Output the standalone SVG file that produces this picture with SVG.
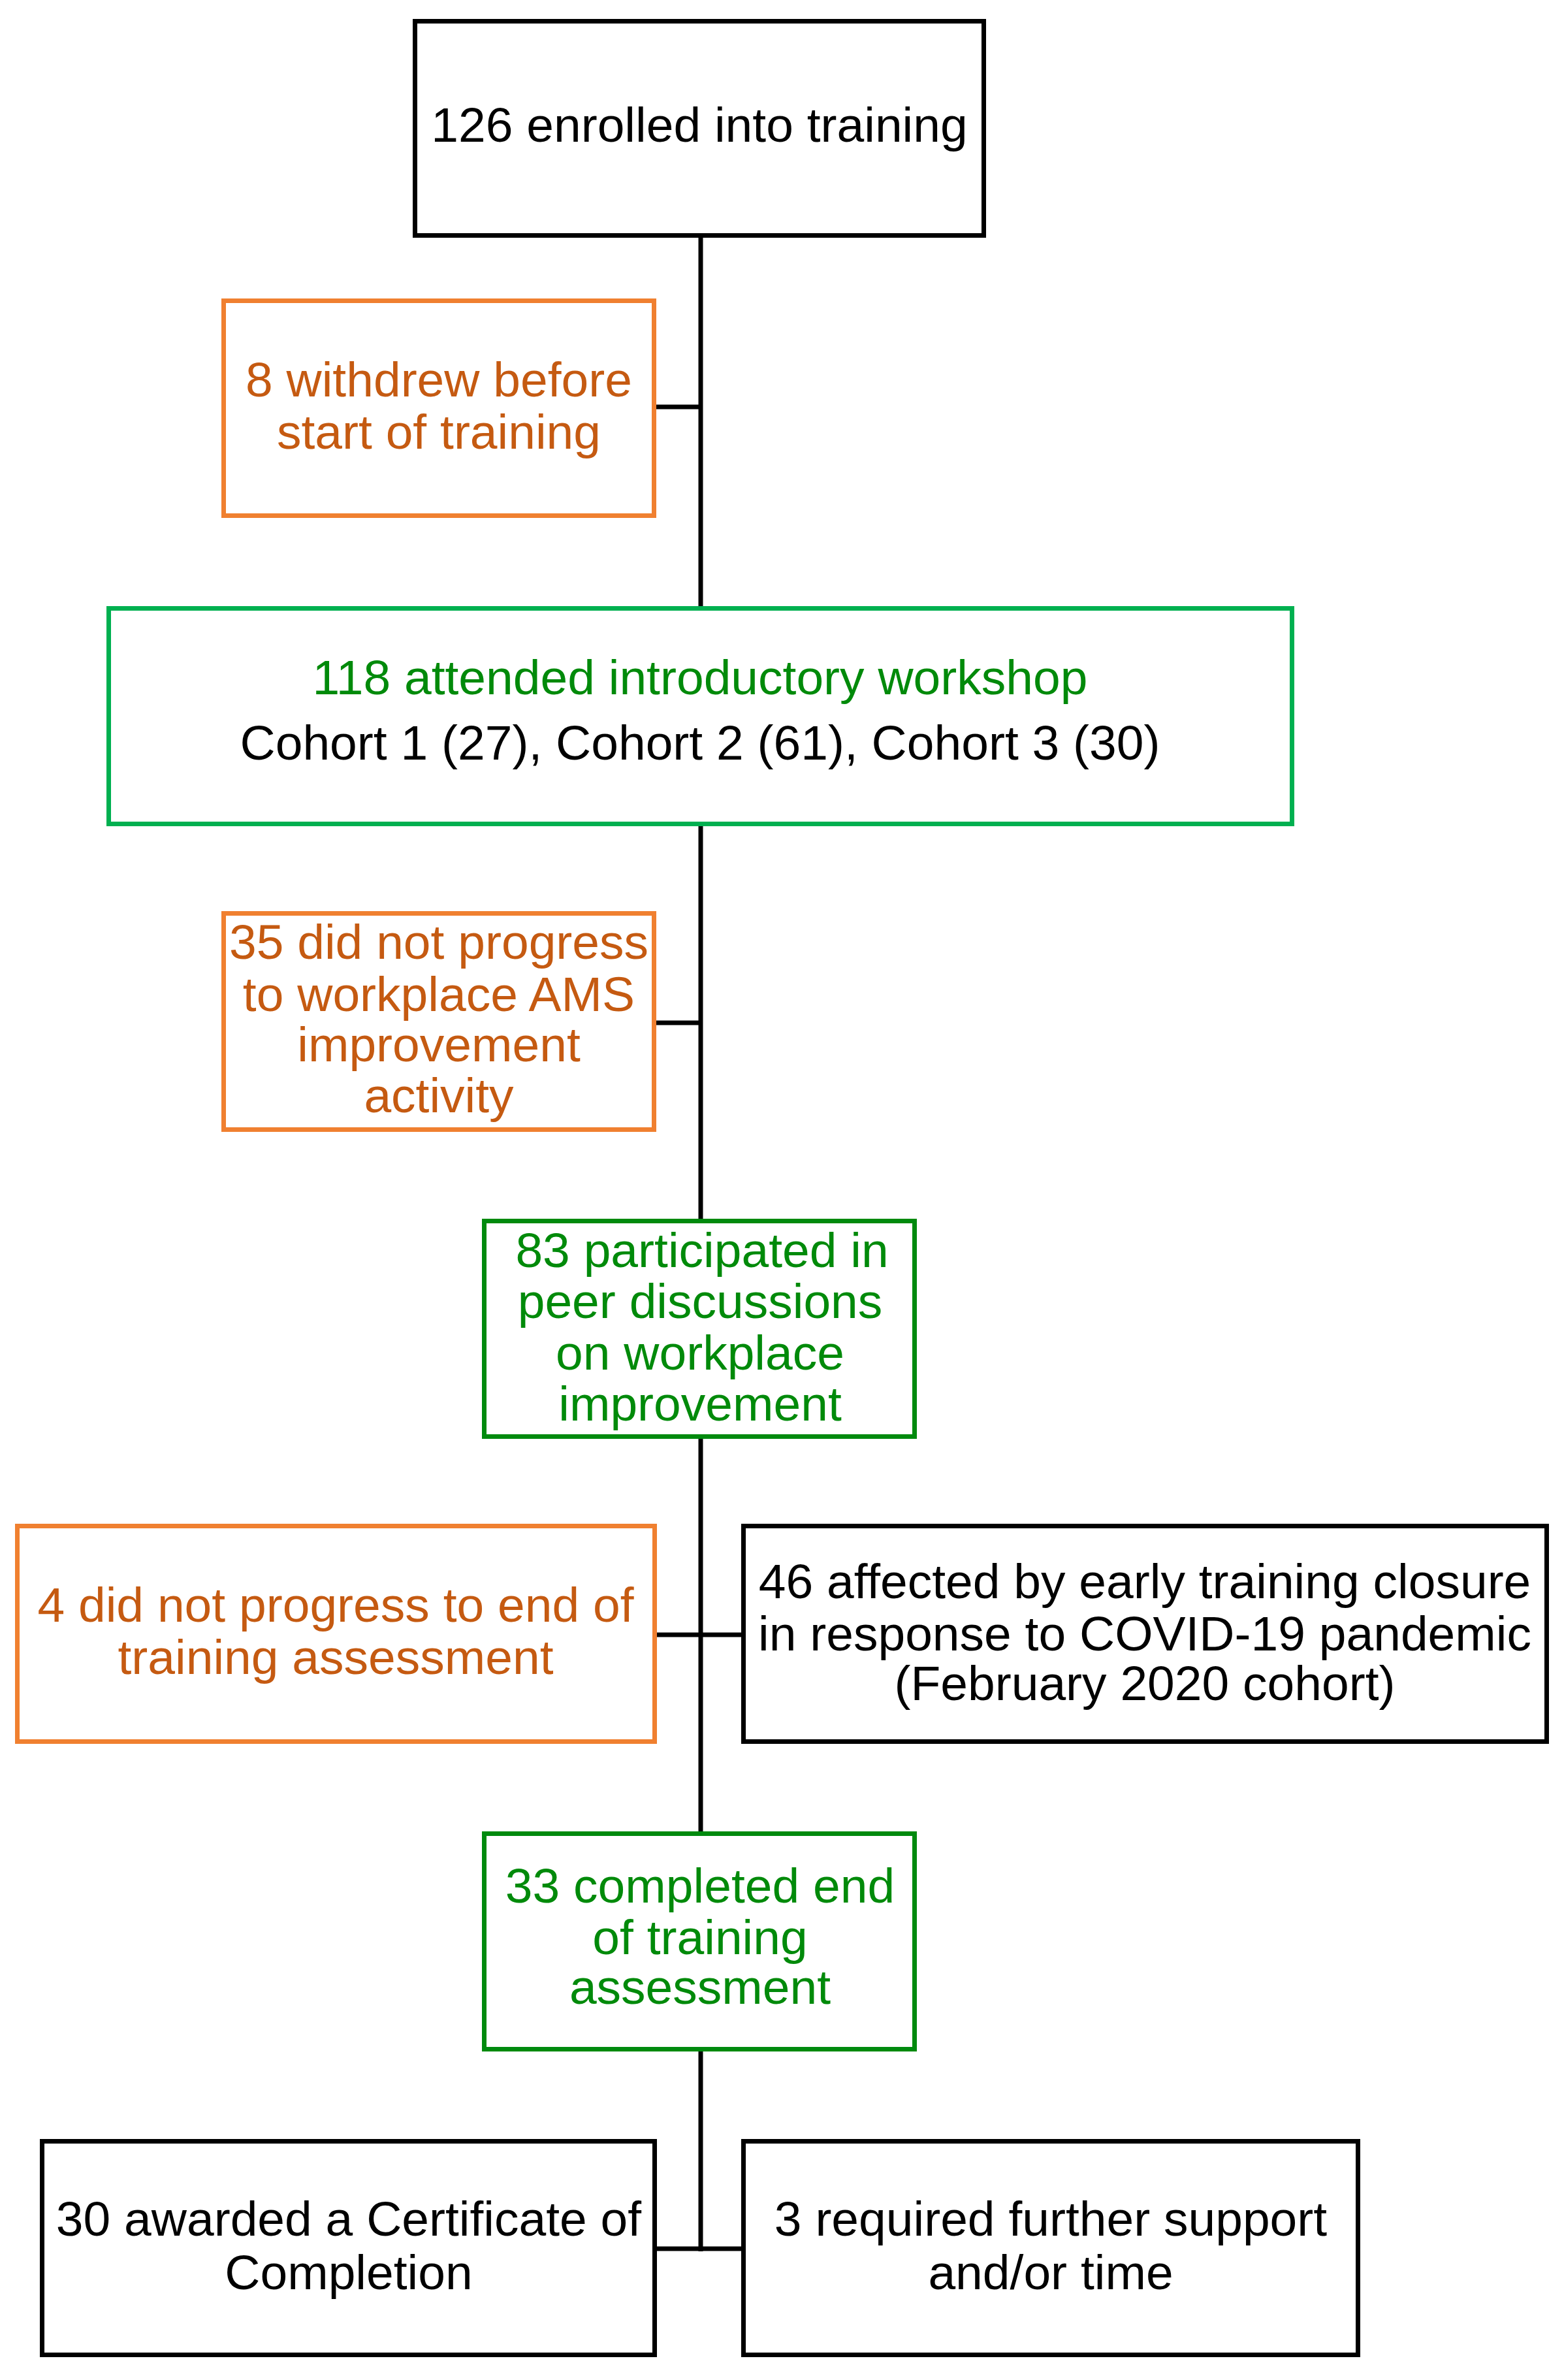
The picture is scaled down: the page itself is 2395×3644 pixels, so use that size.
<svg xmlns="http://www.w3.org/2000/svg" width="2395" height="3644" viewBox="0 0 2395 3644">
<style>
.box{fill:#ffffff;stroke-width:7}
.blk{stroke:#000000}
.org{stroke:#F08030}
.grn1{stroke:#00B050}
.grn2{stroke:#008A0E}
text{font-family:"Liberation Sans",Arial,sans-serif;font-size:75px;text-anchor:middle}
.tb{fill:#000000}
.to{fill:#C55A11}
.tg{fill:#008A0A}
.conn{stroke:#000000;stroke-width:7;fill:none}
</style>
<rect width="2395" height="3644" fill="#ffffff"/>
<g id="connectors">
<line class="conn" x1="1073" y1="362" x2="1073" y2="3447"/>
<line class="conn" x1="1004" y1="623" x2="1073" y2="623"/>
<line class="conn" x1="1004" y1="1566" x2="1073" y2="1566"/>
<line class="conn" x1="1006" y1="2503" x2="1135" y2="2503"/>
<line class="conn" x1="1006" y1="3443" x2="1135" y2="3443"/>
</g>
<g id="n1">
<rect class="box blk" x="635.5" y="32.5" width="871" height="328"/>
<text class="tb" x="1071" y="217">126 enrolled into training</text>
</g>
<g id="n2">
<rect class="box org" x="342.5" y="460.5" width="659" height="329"/>
<text class="to" x="672" y="607">8 withdrew before</text>
<text class="to" x="672" y="687">start of training</text>
</g>
<g id="n3">
<rect class="box grn1" x="166.5" y="931.5" width="1812" height="330"/>
<text class="tg" x="1072" y="1063">118 attended introductory workshop</text>
<text class="tb" x="1072" y="1163">Cohort 1 (27), Cohort 2 (61), Cohort 3 (30)</text>
</g>
<g id="n4">
<rect class="box org" x="342.5" y="1398.5" width="659" height="331"/>
<text class="to" x="672" y="1468">35 did not progress</text>
<text class="to" x="672" y="1548">to workplace AMS</text>
<text class="to" x="672" y="1625">improvement</text>
<text class="to" x="672" y="1703">activity</text>
</g>
<g id="n5">
<rect class="box grn2" x="741.5" y="1869.5" width="659" height="330"/>
<text class="tg" x="1075" y="1940">83 participated in</text>
<text class="tg" x="1072" y="2018">peer discussions</text>
<text class="tg" x="1072" y="2097">on workplace</text>
<text class="tg" x="1072" y="2175">improvement</text>
</g>
<g id="n6">
<rect class="box org" x="26.5" y="2336.5" width="976" height="330"/>
<text class="to" x="514" y="2483">4 did not progress to end of</text>
<text class="to" x="514" y="2563">training assessment</text>
</g>
<g id="n7">
<rect class="box blk" x="1138.5" y="2336.5" width="1230" height="330"/>
<text class="tb" x="1753" y="2447">46 affected by early training closure</text>
<text class="tb" x="1753" y="2527">in response to COVID-19 pandemic</text>
<text class="tb" x="1753" y="2603">(February 2020 cohort)</text>
</g>
<g id="n8">
<rect class="box grn2" x="741.5" y="2807.5" width="659" height="330"/>
<text class="tg" x="1072" y="2913">33 completed end</text>
<text class="tg" x="1072" y="2992">of training</text>
<text class="tg" x="1072" y="3068">assessment</text>
</g>
<g id="n9">
<rect class="box blk" x="64.5" y="3278.5" width="938" height="327"/>
<text class="tb" x="534" y="3423">30 awarded a Certificate of</text>
<text class="tb" x="534" y="3505">Completion</text>
</g>
<g id="n10">
<rect class="box blk" x="1138.5" y="3278.5" width="941" height="327"/>
<text class="tb" x="1609" y="3423">3 required further support</text>
<text class="tb" x="1609" y="3505">and/or time</text>
</g>
</svg>
